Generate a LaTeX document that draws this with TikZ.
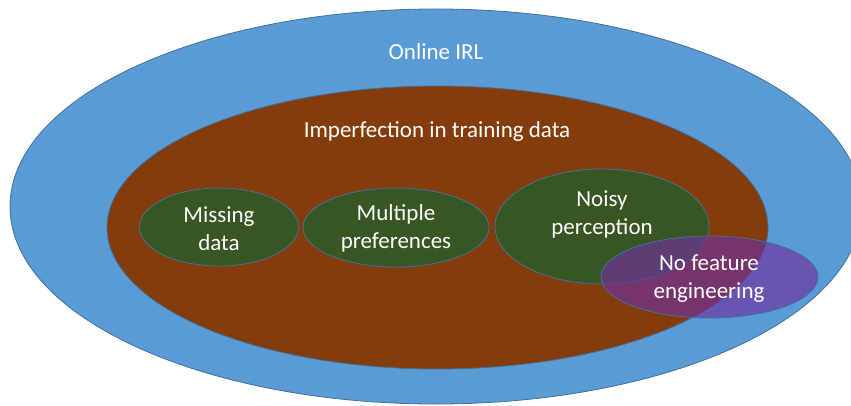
\documentclass[tikz,border=0pt]{standalone}
\usepackage{fontspec}
\setmainfont{Carlito}
\usetikzlibrary{shapes.geometric}
\definecolor{outerblue}{HTML}{5B9BD5}
\definecolor{rimblue}{HTML}{41719C}
\definecolor{brownfill}{HTML}{843C0C}
\definecolor{greenfill}{HTML}{375623}
\definecolor{purplefill}{HTML}{7030A0}
\tikzset{
  blob/.style={ellipse, inner sep=0pt, draw=rimblue, line width=0.8pt},
  lbl/.style={text=white, align=center, font=\fontsize{23}{28}\selectfont, inner sep=0pt}
}
\begin{document}
\begin{tikzpicture}[x=1pt,y=-1pt]
\useasboundingbox (0,0) rectangle (851,406);
\begin{scope}
\clip (0,0) rectangle (851,406);
\node[blob, fill=outerblue, minimum width=852pt, minimum height=395pt] (irl) at (436,206.5) {};
\end{scope}
\node[blob, fill=brownfill, minimum width=661pt, minimum height=283pt] (imp) at (437.5,227.5) {};
\node[blob, fill=greenfill, minimum width=159pt, minimum height=78pt] (miss) at (219,227) {};
\node[blob, fill=greenfill, minimum width=186pt, minimum height=79pt] (mult) at (396,227.5) {};
\node[blob, fill=greenfill, minimum width=214pt, minimum height=115pt] (noisy) at (602,226.5) {};
\node[blob, fill=purplefill, fill opacity=0.65, minimum width=217pt, minimum height=82pt] (nofe) at (709.5,277) {};
\node[lbl] (tirl) at (436,52) {Online IRL};
\node[lbl] (timp) at (437,131) {Imperfection in training data};
\node[lbl] (tmiss) at (219,228.5) {Missing\\data};
\node[lbl] (tmult) at (396,228.5) {Multiple\\preferences};
\node[lbl] (tnoisy) at (602,214) {Noisy\\perception};
\node[lbl] (tnofe) at (709,279) {No feature\\engineering};
\end{tikzpicture}
\end{document}
